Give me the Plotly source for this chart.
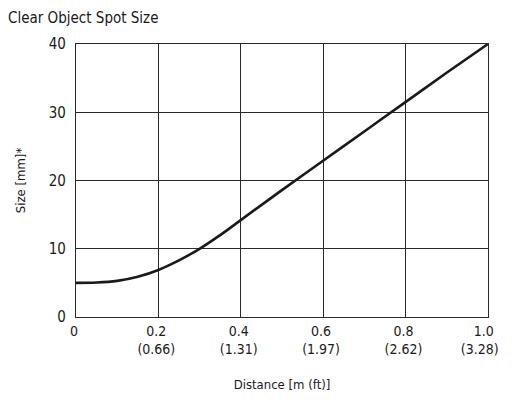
import plotly.graph_objects as go

distance_m = [0, 0.05, 0.1, 0.15, 0.2, 0.25, 0.3, 0.35, 0.4, 0.5, 0.6, 0.7, 0.8, 0.9, 1.0]
size_mm = [5.0, 5.05, 5.3, 5.9, 6.9, 8.3, 10.0, 12.0, 14.2, 18.6, 22.9, 27.2, 31.5, 35.8, 40.0]

x_tickvals = [0, 0.2, 0.4, 0.6, 0.8, 1.0]
x_ticktext = ["0", "0.2<br>(0.66)", "0.4<br>(1.31)", "0.6<br>(1.97)", "0.8<br>(2.62)",
              "1.0\u00a0<br>(3.28)\u00a0\u00a0\u00a0"]
y_tickvals = [0, 10, 20, 30, 40]

FONT = "DejaVu Sans Condensed, Roboto, sans-serif"

fig = go.Figure()
fig.add_trace(go.Scatter(
    x=distance_m, y=size_mm, mode="lines",
    line=dict(color="#1a1a1a", width=2.6, shape="spline", smoothing=1.0),
    showlegend=False, hoverinfo="skip",
))

fig.update_layout(
    width=515, height=399,
    margin=dict(l=64, r=25, t=36, b=90),
    paper_bgcolor="white", plot_bgcolor="white",
    font=dict(family=FONT, size=14, color="#1a1a1a"),
    title=dict(text="Clear Object Spot Size", x=0, xanchor="left",
               y=1 - 10 / 399, yanchor="middle", font=dict(family=FONT, size=15, color="#1a1a1a")),
    xaxis=dict(
        range=[0, 1.0005], tickvals=x_tickvals, ticktext=x_ticktext,
        showgrid=True, gridcolor="#2a2a2a", gridwidth=1,
        showline=True, linecolor="#2a2a2a", linewidth=1.2, mirror=True,
        zeroline=False, ticks="", ticklabelstandoff=1, ticklabelshift=-2,
        title=dict(text="Distance [m (ft)]", standoff=23, font=dict(size=13)),
        tickfont=dict(size=14),
    ),
    yaxis=dict(
        range=[0, 40.02], tickvals=y_tickvals,
        showgrid=True, gridcolor="#2a2a2a", gridwidth=1,
        showline=True, linecolor="#2a2a2a", linewidth=1.2, mirror=True,
        zeroline=False, ticks="", ticklabelstandoff=6,
        title=dict(text="Size [mm]*", standoff=20, font=dict(size=13)),
        tickfont=dict(size=15),
    ),
)

fig.write_html("out.html")
